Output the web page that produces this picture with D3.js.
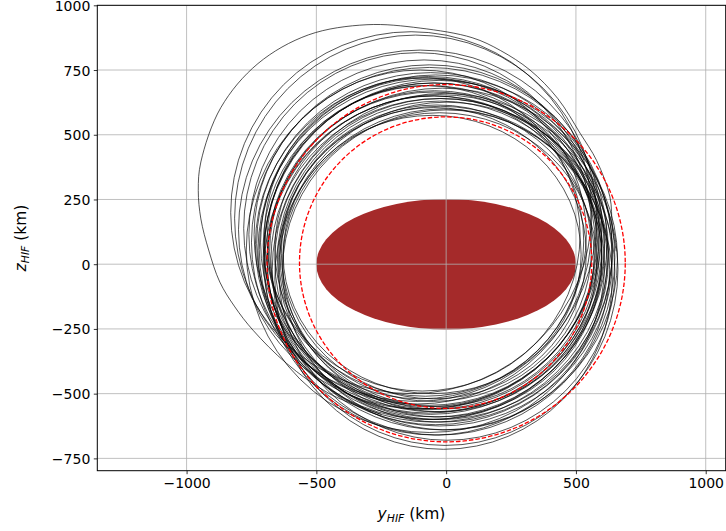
<!DOCTYPE html>
<html>
<head>
<meta charset="utf-8">
<script src="https://cdn.jsdelivr.net/npm/d3@7"></script>
<style>
  body { margin: 0; background: white; }
  svg { display: block; font-family: "DejaVu Sans", sans-serif; }
</style>
</head>
<body>
<svg></svg>
<script>
let width = 726;
let height = 531;

// plot box in pixels
let box = { left: 97.3, right: 725.7, top: 5.3, bottom: 470.7 };

// axis ranges (km) and ticks
let xDomain = [-1344, 1077];
let yDomain = [-797.6, 1000];
let xTicks = [-1000, -500, 0, 500, 1000];
let yTicks = [-750, -500, -250, 0, 250, 500, 750, 1000];

// filled body (ellipse) centre + semi axes, km
let bodyCenter = [0, 0];
let bodyRadii = [500, 252];

// dashed reference circles: centre y, centre z, radius
let refCircleY = [-2, 0];
let refCircleZ = [6, 4];
let refCircleR = [563, 690];

// closed loops, read as extents (km)
let loopTop    = [898, 885, 827, 817, 789, 770, 750, 740, 731, 720, 710, 700, 690, 680, 670, 660, 650, 640, 630, 626, 615, 605, 596, 585, 575, 600, 760, 720, 650, 700, 665, 640, 715, 610, 690, 655, 725];
let loopBottom = [-500, -530, -560, -540, -560, -600, -520, -580, -620, -550, -660, -600, -510, -640, -570, -700, -530, -610, -590, -680, -550, -520, -640, -570, -500, -715, -650, -490, -660, -590, -560, -600, -610, -560, -545, -625, -575];
let loopLeft   = [-830, -815, -800, -780, -760, -750, -740, -730, -720, -715, -705, -700, -690, -690, -680, -670, -660, -660, -650, -645, -640, -635, -630, -630, -628, -660, -770, -700, -700, -700, -685, -675, -725, -645, -705, -690, -735];
let loopRight  = [560, 580, 600, 560, 590, 620, 540, 610, 640, 580, 650, 600, 530, 660, 590, 662, 560, 620, 600, 650, 570, 540, 630, 580, 520, 640, 640, 516, 610, 610, 585, 625, 625, 600, 575, 640, 600];

// the outer (first) arc of the track, traced point by point
let arcY = [655, 640, 631, 580, 516, 430, 323, 210, 100, -100, -305, -530, -725, -868, -945, -955, -945, -915, -872, -814, -744, -615, -450, -250];
let arcZ = [50, 150, 260, 400, 506, 640, 750, 825, 875, 912, 925, 886, 775, 605, 395, 285, 175, 55, -69, -165, -255, -383, -500, -580];

let svg = d3.select("svg")
            .attr("width", width)
            .attr("height", height);

let x = d3.scaleLinear().domain(xDomain).range([box.left, box.right]);
let y = d3.scaleLinear().domain(yDomain).range([box.bottom, box.top]);

svg.append("defs").append("clipPath").attr("id", "clip")
   .append("rect")
   .attr("x", box.left).attr("y", box.top)
   .attr("width", box.right - box.left).attr("height", box.bottom - box.top);

let plot = svg.append("g").attr("clip-path", "url(#clip)");

// body
plot.append("ellipse")
    .attr("cx", x(bodyCenter[0]))
    .attr("cy", y(bodyCenter[1]))
    .attr("rx", x(bodyRadii[0]) - x(0))
    .attr("ry", y(0) - y(bodyRadii[1]))
    .attr("fill", "#a52a2a");

// grid
plot.append("g").selectAll("line").data(xTicks).enter().append("line")
    .attr("x1", d => x(d)).attr("x2", d => x(d))
    .attr("y1", box.top).attr("y2", box.bottom)
    .attr("stroke", "#b0b0b0").attr("stroke-width", 0.8);
plot.append("g").selectAll("line").data(yTicks).enter().append("line")
    .attr("y1", d => y(d)).attr("y2", d => y(d))
    .attr("x1", box.left).attr("x2", box.right)
    .attr("stroke", "#b0b0b0").attr("stroke-width", 0.8);

// loops
plot.append("g").selectAll("ellipse")
    .data(loopTop)
    .enter()
    .append("ellipse")
    .attr("cx", (d, i) => (x(loopLeft[i]) + x(loopRight[i])) / 2)
    .attr("cy", (d, i) => (y(loopTop[i]) + y(loopBottom[i])) / 2)
    .attr("rx", (d, i) => (x(loopRight[i]) - x(loopLeft[i])) / 2)
    .attr("ry", (d, i) => (y(loopBottom[i]) - y(loopTop[i])) / 2)
    .attr("fill", "none")
    .attr("stroke", "black")
    .attr("stroke-opacity", 0.9)
    .attr("stroke-width", 0.75);

let line = d3.line()
             .x(d => x(d[0]))
             .y(d => y(d[1]))
             .curve(d3.curveCatmullRom);

plot.append("path")
    .datum(arcY.map((v, i) => [v, arcZ[i]]))
    .attr("d", line)
    .attr("fill", "none")
    .attr("stroke", "black")
    .attr("stroke-opacity", 0.9)
    .attr("stroke-width", 0.75);

// dashed reference circles
plot.append("g").selectAll("ellipse")
    .data(refCircleR)
    .enter()
    .append("ellipse")
    .attr("cx", (d, i) => x(refCircleY[i]))
    .attr("cy", (d, i) => y(refCircleZ[i]))
    .attr("rx", d => x(d) - x(0))
    .attr("ry", d => y(0) - y(d))
    .attr("fill", "none")
    .attr("stroke", "red")
    .attr("stroke-width", 1.3)
    .attr("stroke-dasharray", "4.5,2");

// axes
let fmt = d3.format("d");
let xAxis = d3.axisBottom(x).tickValues(xTicks).tickFormat(fmt).tickSize(3.5).tickPadding(3.5);
let yAxis = d3.axisLeft(y).tickValues(yTicks).tickFormat(fmt).tickSize(3.5).tickPadding(3.5);

let gx = svg.append("g")
            .attr("transform", `translate(0, ${box.bottom})`)
            .call(xAxis);
let gy = svg.append("g")
            .attr("transform", `translate(${box.left}, 0)`)
            .call(yAxis);

[gx, gy].forEach(g => {
    g.select(".domain").remove();
    g.selectAll("text").attr("font-size", 14).attr("font-family", "DejaVu Sans").attr("fill", "black");
    g.selectAll(".tick line").attr("stroke", "black").attr("stroke-width", 0.8);
});
gy.selectAll("text").attr("dy", "0.36em");

// frame
svg.append("rect")
   .attr("x", box.left).attr("y", box.top)
   .attr("width", box.right - box.left).attr("height", box.bottom - box.top)
   .attr("fill", "none")
   .attr("stroke", "black")
   .attr("stroke-width", 1);

// axis labels
let xl = svg.append("text")
            .attr("x", (box.left + box.right) / 2)
            .attr("y", 519)
            .attr("text-anchor", "middle")
            .attr("font-size", 15.5);
xl.append("tspan").attr("font-style", "italic").text("y");
xl.append("tspan").attr("font-style", "italic").attr("font-size", 10.8).attr("dy", 3).text("HIF");
xl.append("tspan").attr("dy", -3).text(" (km)");

let yl = svg.append("text")
            .attr("transform", `translate(26, ${(box.top + box.bottom) / 2}) rotate(-90)`)
            .attr("text-anchor", "middle")
            .attr("font-size", 15.5);
yl.append("tspan").attr("font-style", "italic").text("z");
yl.append("tspan").attr("font-style", "italic").attr("font-size", 10.8).attr("dy", 3).text("HIF");
yl.append("tspan").attr("dy", -3).text(" (km)");
</script>
</body>
</html>
